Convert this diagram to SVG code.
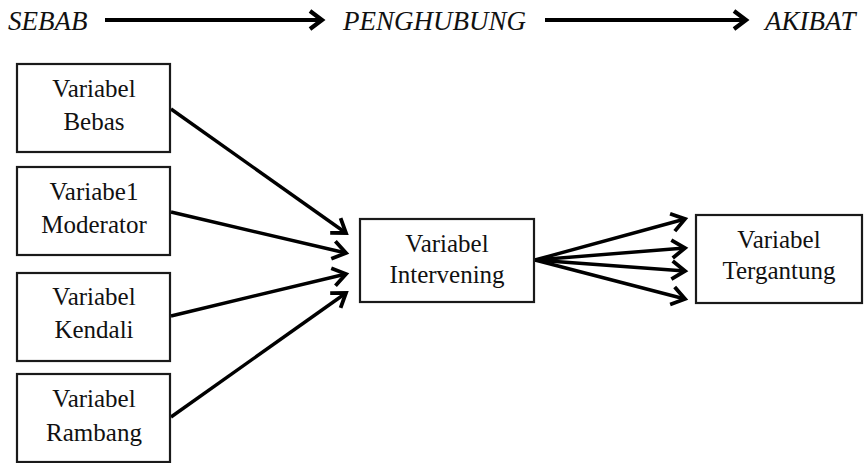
<svg xmlns="http://www.w3.org/2000/svg" width="865" height="463" viewBox="0 0 865 463">
  <style>
    .box { fill: #ffffff; stroke: #1a1a1a; stroke-width: 2.2; }
    .lbl { font-family: "Liberation Serif", "Times New Roman", serif; font-size: 25px; fill: #111111; text-anchor: middle; }
    .hdr { font-family: "Liberation Serif", "Times New Roman", serif; font-size: 27px; font-style: italic; fill: #111111; }
    .edge { stroke: #000000; stroke-width: 3.4; fill: none; marker-end: url(#chev); }
    .flow { stroke: #000000; stroke-width: 4.2; fill: none; marker-end: url(#chevBig); }
  </style>
  <defs>
    <marker id="chev" markerUnits="userSpaceOnUse" viewBox="-16 -11 20 22" refX="0" refY="0" markerWidth="20" markerHeight="22" orient="auto">
      <path d="M-13,-9 L0,0 L-13,9" fill="none" stroke="#000" stroke-width="3.8" stroke-linejoin="miter"/>
    </marker>
    <marker id="chevBig" markerUnits="userSpaceOnUse" viewBox="-16 -11 20 22" refX="0" refY="0" markerWidth="20" markerHeight="22" orient="auto">
      <path d="M-12,-9 L0,0 L-12,9" fill="none" stroke="#000" stroke-width="4.2" stroke-linejoin="miter"/>
    </marker>
  </defs>

  <!-- header: cause -> mediator -> effect -->
  <g id="header">
    <text class="hdr" x="8" y="30">SEBAB</text>
    <text class="hdr" x="343" y="30">PENGHUBUNG</text>
    <text class="hdr" x="765" y="30">AKIBAT</text>
  </g>

  <g id="connectors">
    <line class="flow" x1="105" y1="20" x2="322" y2="20"/>
    <line class="flow" x1="545" y1="20" x2="746" y2="20"/>

    <line class="edge" x1="171" y1="109" x2="346" y2="233"/>
    <line class="edge" x1="171" y1="212" x2="346" y2="253"/>
    <line class="edge" x1="171" y1="316" x2="346" y2="274"/>
    <line class="edge" x1="171" y1="417" x2="346" y2="293"/>

    <line class="edge" x1="535" y1="260" x2="685" y2="219"/>
    <line class="edge" x1="535" y1="260" x2="685" y2="248"/>
    <line class="edge" x1="535" y1="260" x2="685" y2="271"/>
    <line class="edge" x1="535" y1="260" x2="685" y2="299"/>
  </g>

  <g id="bebas">
    <rect class="box" x="17" y="64" width="153" height="88"/>
    <text class="lbl" x="94" y="97">Variabel</text>
    <text class="lbl" x="94" y="130">Bebas</text>
  </g>
  <g id="moderator">
    <rect class="box" x="17" y="167" width="153" height="88"/>
    <text class="lbl" x="94" y="200">Variabe1</text>
    <text class="lbl" x="94" y="233">Moderator</text>
  </g>
  <g id="kendali">
    <rect class="box" x="17" y="273" width="153" height="88"/>
    <text class="lbl" x="94" y="305">Variabel</text>
    <text class="lbl" x="94" y="338">Kendali</text>
  </g>
  <g id="rambang">
    <rect class="box" x="17" y="374" width="153" height="88"/>
    <text class="lbl" x="94" y="407">Variabel</text>
    <text class="lbl" x="94" y="441">Rambang</text>
  </g>
  <g id="intervening">
    <rect class="box" x="360" y="219" width="174" height="83"/>
    <text class="lbl" x="447" y="252">Variabel</text>
    <text class="lbl" x="447" y="283">Intervening</text>
  </g>
  <g id="tergantung">
    <rect class="box" x="696" y="215" width="166" height="88"/>
    <text class="lbl" x="779" y="248">Variabel</text>
    <text class="lbl" x="779" y="279">Tergantung</text>
  </g>
</svg>
